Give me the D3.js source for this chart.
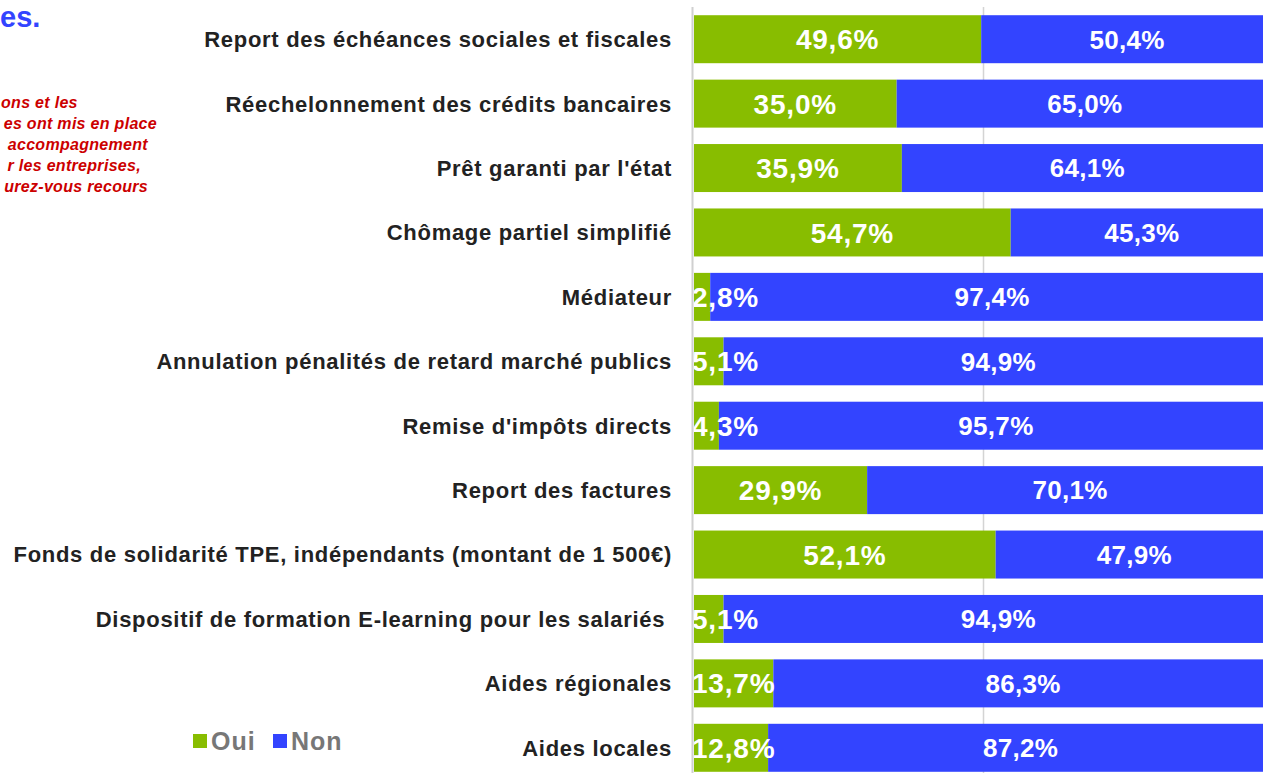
<!DOCTYPE html>
<html>
<head>
<script src="https://d3js.org/d3.v7.min.js"></script>
<style>
  body { margin: 0; background: #fff; }
  svg text { font-family: "Liberation Sans", Arial, Helvetica, sans-serif; font-weight: bold; }
</style>
</head>
<body>
<svg id="chart" width="1263" height="773"></svg>
<script>
// Data
var categories = [
  "Report des échéances sociales et fiscales",
  "Réechelonnement des crédits bancaires",
  "Prêt garanti par l'état",
  "Chômage partiel simplifié",
  "Médiateur",
  "Annulation pénalités de retard marché publics",
  "Remise d'impôts directs",
  "Report des factures",
  "Fonds de solidarité TPE, indépendants (montant de 1 500€)",
  "Dispositif de formation E-learning pour les salariés ",
  "Aides régionales",
  "Aides locales"
];
var oui = [49.6, 35.0, 35.9, 54.7, 2.8, 5.1, 4.3, 29.9, 52.1, 5.1, 13.7, 12.8];
var non = [50.4, 65.0, 64.1, 45.3, 97.4, 94.9, 95.7, 70.1, 47.9, 94.9, 86.3, 87.2];
var seriesNames = ["Oui", "Non"];
var colors = ["#88bd00", "#3344ff"];
// the visible ends of the title and intro (cut by the left edge in the original)
var titleText = "es.";
var introLines = [
  "ons et les",
  "es ont mis en place",
  "accompagnement",
  "r les entreprises,",
  "urez-vous recours"
];
var introEnds = [76, 157, 148, 141, 148];

var svg = d3.select("#chart");

var x = d3.scaleLinear().domain([0, 100]).range([694, 1273]);
var y = d3.scaleBand().domain(categories).range([7, 780])
  .paddingInner(0.255).paddingOuter(0.1275);

svg.append("text").attr("x", 0).attr("y", 27)
  .style("font-size", "29px").attr("fill", "#3344ff")
  .text(titleText);

svg.selectAll("text.intro").data(introLines).enter().append("text")
  .attr("class", "intro")
  .attr("y", function (d, i) { return 108 + i * 21; })
  .style("font-size", "16px").style("letter-spacing", "0.3px")
  .style("font-style", "italic")
  .attr("fill", "#cc0000")
  .text(function (d) { return d; })
  .attr("x", function (d, i) {
    // keep the right edge where it is, but never past the left border
    return Math.max(1, introEnds[i] - this.getComputedTextLength());
  });

// grid
svg.append("line").attr("x1", x(50)).attr("x2", x(50))
  .attr("y1", 7).attr("y2", 773)
  .attr("stroke", "#d4d4d4").attr("stroke-width", 1.5);

var rows = svg.selectAll("g.row").data(categories).enter().append("g")
  .attr("class", "row")
  .attr("transform", function (d) { return "translate(0," + y(d) + ")"; });

rows.append("rect")
  .attr("x", x(0))
  .attr("height", y.bandwidth())
  .attr("width", function (d, i) { return x(oui[i]) - x(0); })
  .attr("fill", colors[0]);

rows.append("rect")
  .attr("x", function (d, i) { return x(oui[i]); })
  .attr("height", y.bandwidth())
  .attr("width", function (d, i) { return x(oui[i] + non[i]) - x(oui[i]); })
  .attr("fill", colors[1]);

function fmt(v) { return v.toFixed(1).replace(".", ",") + "%"; }

rows.append("text")
  .attr("y", y.bandwidth() / 2)
  .attr("dy", "0.36em")
  .attr("text-anchor", "middle")
  .style("font-size", "28px").style("letter-spacing", "0.8px")
  .attr("fill", "#fff")
  .text(function (d, i) { return fmt(oui[i]); })
  .attr("x", function (d, i) {
    var w = this.getComputedTextLength();
    var c = (x(0) + x(oui[i])) / 2;
    return Math.max(c, x(0) + w / 2 - 2);
  });

rows.append("text")
  .attr("x", function (d, i) { return (x(oui[i]) + x(oui[i] + non[i])) / 2; })
  .attr("y", y.bandwidth() / 2)
  .attr("dy", "0.36em")
  .attr("text-anchor", "middle")
  .style("font-size", "26px").style("letter-spacing", "0.3px")
  .attr("fill", "#fff")
  .text(function (d, i) { return fmt(non[i]); });

// category labels
rows.append("text")
  .attr("x", 672)
  .attr("y", y.bandwidth() / 2)
  .attr("dy", "0.36em")
  .attr("text-anchor", "end")
  .style("font-size", "22px").style("letter-spacing", "0.7px")
  .style("white-space", "pre")
  .attr("fill", "#222")
  .text(function (d) { return d; });

// axis line
svg.append("line").attr("x1", 692.5).attr("x2", 692.5)
  .attr("y1", 7).attr("y2", 773)
  .attr("stroke", "#d0d0d0").attr("stroke-width", 2);

// legend
var legend = svg.selectAll("g.leg").data(seriesNames).enter().append("g")
  .attr("class", "leg")
  .attr("transform", function (d, i) { return "translate(" + [193, 273][i] + ",734)"; });
legend.append("rect").attr("width", 14).attr("height", 14)
  .attr("fill", function (d, i) { return colors[i]; });
legend.append("text").attr("x", 18).attr("y", 7).attr("dy", "0.36em")
  .style("font-size", "25px").style("letter-spacing", "1px")
  .attr("fill", "#777")
  .text(function (d) { return d; });
</script>
</body>
</html>
